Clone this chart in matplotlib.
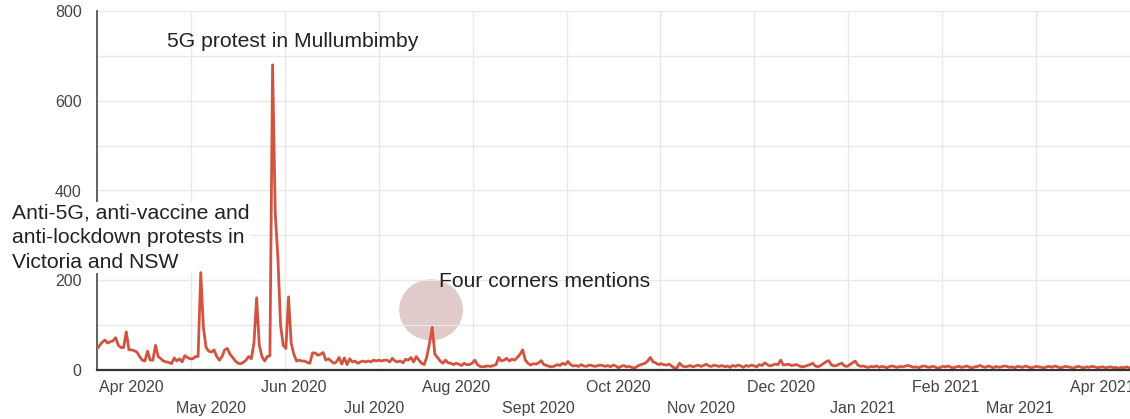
import numpy as np
import pandas as pd
import matplotlib
matplotlib.use("Agg")
import matplotlib.pyplot as plt
import matplotlib.dates as mdates
from matplotlib.patches import Ellipse

START = "2020-03-19"

# daily mention counts (Mar 19 2020 .. Apr 11 2021)
counts = [
    47, 55, 62, 67, 60, 63, 65, 72, 55, 50, 50, 85, 45, 45, 43, 40, 30, 22, 20, 42,
    22, 22, 55, 30, 25, 20, 18, 17, 14, 27, 20, 25, 18, 32, 28, 25, 25, 30, 30, 217,
    95, 50, 42, 40, 45, 30, 22, 30, 45, 48, 35, 28, 20, 15, 14, 17, 22, 30, 25, 60,
    161, 55, 30, 20, 30, 32, 680, 350, 250, 100, 55, 48, 163, 60, 35, 20, 22, 20, 20, 17,
    15, 38, 38, 33, 35, 39, 22, 25, 20, 15, 18, 28, 13, 27, 12, 25, 18, 20, 15, 18,
    20, 18, 20, 18, 22, 20, 22, 20, 22, 22, 18, 26, 20, 18, 20, 16, 24, 22, 28, 18,
    30, 22, 15, 12, 30, 60, 95, 35, 28, 20, 15, 22, 16, 15, 12, 15, 13, 10, 15, 12,
    12, 15, 22, 12, 8, 7, 8, 9, 8, 10, 12, 28, 20, 22, 26, 20, 24, 22, 28, 35,
    45, 22, 15, 11, 14, 13, 16, 21, 12, 10, 8, 7, 9, 12, 10, 15, 12, 19, 12, 9,
    10, 8, 12, 9, 8, 11, 10, 8, 9, 11, 10, 8, 10, 7, 11, 9, 5, 8, 10, 7,
    8, 6, 4, 8, 11, 13, 15, 20, 28, 18, 16, 12, 14, 12, 11, 13, 9, 4, 5, 15,
    9, 7, 8, 10, 7, 9, 11, 8, 10, 13, 9, 8, 11, 9, 8, 10, 7, 9, 6, 10,
    8, 11, 9, 6, 10, 8, 11, 9, 7, 12, 10, 16, 12, 9, 11, 13, 12, 22, 11, 12,
    13, 10, 11, 12, 9, 7, 8, 10, 12, 15, 9, 7, 10, 14, 18, 21, 12, 9, 10, 13,
    15, 9, 8, 12, 16, 20, 11, 8, 9, 7, 6, 8, 7, 9, 6, 8, 7, 5, 8, 9,
    7, 6, 8, 7, 9, 10, 8, 6, 7, 5, 8, 9, 7, 6, 8, 7, 4, 6, 8, 7,
    9, 6, 5, 7, 8, 6, 7, 9, 6, 5, 7, 8, 10, 7, 6, 9, 7, 5, 8, 6,
    7, 9, 8, 6, 7, 5, 8, 7, 6, 9, 7, 5, 6, 8, 7, 6, 5, 7, 8, 6,
    9, 7, 5, 6, 8, 7, 6, 4, 7, 8, 6, 5, 7, 6, 8, 7, 5, 6, 7, 5,
    6, 7, 5, 6, 4, 6, 5, 7, 5,
]
dates = pd.date_range(START, periods=len(counts), freq="D")

row1_months = ["2020-04-01", "2020-06-01", "2020-08-01", "2020-10-01",
               "2020-12-01", "2021-02-01", "2021-04-01"]
row1_labels = ["Apr 2020", "Jun 2020", "Aug 2020", "Oct 2020",
               "Dec 2020", "Feb 2021", "Apr 2021"]
row2_months = ["2020-05-01", "2020-07-01", "2020-09-01", "2020-11-01",
               "2021-01-01", "2021-03-01"]
row2_labels = ["May 2020", "Jul 2020", "Sept 2020", "Nov 2020",
               "Jan 2021", "Mar 2021"]
y_ticks = [0, 200, 400, 600, 800]

plt.rcParams["font.family"] = ["Liberation Sans", "DejaVu Sans"]

fig = plt.figure(figsize=(11.3, 4.19), dpi=100)
ax = fig.add_axes([97 / 1130, 49 / 419, 1 - 97 / 1130, 359 / 419])

x0 = mdates.date2num(dates[0])
x1 = mdates.date2num(dates[-1]) + 0.3
ax.set_xlim(x0, x1)
ax.set_ylim(0, 800)

# evenly spaced vertical gridlines (not tied to month labels)
for gx in np.linspace(x0, x1, 12)[1:-1]:
    ax.axvline(gx, color="#e8e8e8", lw=1, zorder=0)
ax.set_yticks(y_ticks)
ax.set_yticks(range(100, 800, 200), minor=True)
ax.grid(axis="y", which="both", color="#e8e8e8", lw=1, zorder=0)

# the highlighted "Four corners" spike
t_fc = mdates.date2num(pd.Timestamp("2020-07-22 14:00"))
ax.add_patch(Ellipse((t_fc, 134), width=24, height=136, facecolor="#e0caca",
                     edgecolor="none", zorder=1))

ax.plot(dates, counts, color="#d2533f", lw=2, zorder=3)

ax.set_xticks(mdates.date2num(pd.to_datetime(row1_months)))
ax.set_xticklabels(row1_labels)
ax.set_xticks(mdates.date2num(pd.to_datetime(row2_months)), minor=True)
ax.set_xticklabels(row2_labels, minor=True)
ax.tick_params(axis="x", which="major", length=0, pad=7, labelsize=11.5, labelcolor="#444444")
ax.tick_params(axis="x", which="minor", length=0, pad=22, labelsize=11.5, labelcolor="#444444")
ax.tick_params(axis="y", which="both", length=0, pad=11, labelsize=11.5, labelcolor="#444444")

for s in ("top", "right"):
    ax.spines[s].set_visible(False)
ax.spines["left"].set_color("#555555")
ax.spines["left"].set_linewidth(1.3)
ax.spines["bottom"].set_color("#333333")
ax.spines["bottom"].set_linewidth(1.6)
ax.spines["bottom"].set_zorder(4)

day = lambda n: x0 + n
ax.text(day(26.3), 731, "5G protest in Mullumbimby", fontsize=15.2,
        color="#222222", va="center", ha="left")
ax.text(day(128.6), 197, "Four corners mentions", fontsize=15.2,
        color="#222222", va="center", ha="left")
ax.text(day(-32), 295, "Anti-5G, anti-vaccine and\nanti-lockdown protests in\nVictoria and NSW",
        fontsize=15.2, color="#222222", va="center", ha="left", linespacing=1.38,
        clip_on=False, zorder=2.8,
        bbox=dict(facecolor="white", edgecolor="none", pad=1))

fig.savefig("out.png", dpi=100)
